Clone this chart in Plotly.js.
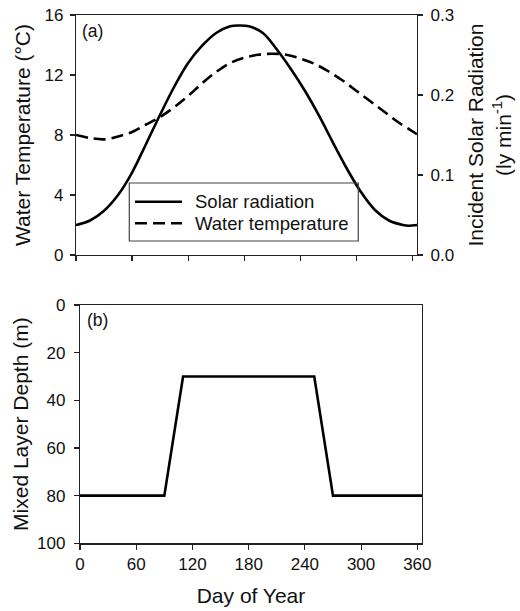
<!DOCTYPE html>
<html>
<head>
<meta charset="utf-8">
<script src="https://cdn.plot.ly/plotly-3.0.1.min.js"></script>
<style>html,body{margin:0;padding:0;background:#fff;}#chart{width:520px;height:611px;}</style>
</head>
<body>
<div id="chart"></div>
<script>
// ---- data ----
const solarDays = [0, 15, 30, 45, 60, 75, 90, 105, 120, 135, 150, 165, 175, 185, 200, 215, 230, 245, 260, 275, 290, 305, 320, 335, 350, 356, 365];
// incident solar radiation (ly/min)
const solarRadiation = [0.0375, 0.0431, 0.0553, 0.0750, 0.1031, 0.1388, 0.1753, 0.2100, 0.2400, 0.2616, 0.2775, 0.2859, 0.2869, 0.2859, 0.2775, 0.2569, 0.2325, 0.2053, 0.1744, 0.1406, 0.1078, 0.0788, 0.0563, 0.0431, 0.0375, 0.0366, 0.0375];

const tempDays = [0, 15, 30, 45, 60, 75, 90, 105, 120, 135, 150, 165, 180, 195, 210, 225, 240, 255, 270, 285, 300, 315, 330, 345, 360, 365];
// water temperature (°C)
const waterTemperature = [8.0, 7.8, 7.71, 7.9, 8.2, 8.7, 9.2, 9.85, 10.6, 11.45, 12.2, 12.8, 13.15, 13.35, 13.42, 13.35, 13.1, 12.75, 12.25, 11.65, 10.95, 10.25, 9.55, 8.85, 8.25, 8.05];

const mldDays = [0, 90, 110, 250, 270, 365];
// mixed layer depth (m)
const mixedLayerDepth = [80, 80, 30, 30, 80, 80];

const dayTicks = [0, 60, 120, 180, 240, 300, 360];
const tempTicks = [0, 4, 8, 12, 16];
const solarTicks = [0.0, 0.1, 0.2, 0.3];
const depthTicks = [0, 20, 40, 60, 80, 100];

const seriesNames = ['Solar radiation', 'Water temperature'];

// ---- layout helpers (pixel -> paper) ----
const W = 520, H = 611;
const px = x => x / W;
const py = y => 1 - y / H;

const font = 'Liberation Sans, Arial, sans-serif';
const axCol = '#222';

const traces = [
  {x: solarDays, y: solarRadiation, xaxis: 'x', yaxis: 'y2', mode: 'lines', name: seriesNames[0],
   line: {color: '#000', width: 2.6, shape: 'spline'}, showlegend: false},
  {x: tempDays, y: waterTemperature, xaxis: 'x', yaxis: 'y', mode: 'lines', name: seriesNames[1],
   line: {color: '#000', width: 2.6, dash: '12px,6px', shape: 'spline'}, showlegend: false},
  {x: mldDays, y: mixedLayerDepth, xaxis: 'x2', yaxis: 'y3', mode: 'lines', name: 'Mixed layer depth',
   line: {color: '#000', width: 2.6}, showlegend: false}
];

const baseAxis = {
  showline: true, linecolor: axCol, linewidth: 1.2, ticks: 'outside', ticklen: 5, tickwidth: 1.2,
  tickcolor: axCol, showgrid: false, zeroline: false, tickfont: {family: font, size: 17, color: '#111'},
  fixedrange: true
};

const layout = {
  width: W, height: H,
  margin: {l: 0, r: 0, t: 0, b: 0},
  paper_bgcolor: '#fff', plot_bgcolor: '#fff',
  showlegend: false,
  xaxis: Object.assign({}, baseAxis, {
    domain: [px(76), px(417)], range: [0, 365], tickvals: dayTicks, showticklabels: false,
    mirror: true, anchor: 'y'
  }),
  yaxis: Object.assign({}, baseAxis, {
    domain: [py(255), py(15)], range: [0, 16], tickvals: tempTicks, anchor: 'x',
    ticklabelstandoff: 3,
    title: {text: 'Water Temperature (°C)', font: {family: font, size: 21, color: '#111'}, standoff: 8}
  }),
  yaxis2: Object.assign({}, baseAxis, {
    overlaying: 'y', side: 'right', anchor: 'x', range: [0, 0.3], tickvals: solarTicks, tickformat: '.1f',
    ticklabelstandoff: 4,
    title: {text: 'Incident Solar Radiation<br>(ly min<sup>-1</sup>)', font: {family: font, size: 21, color: '#111'}, standoff: 15}
  }),
  xaxis2: Object.assign({}, baseAxis, {
    domain: [px(80), px(422)], range: [0, 365], tickvals: dayTicks, mirror: true, anchor: 'y3',
    ticklabelstandoff: 0,
    title: {text: 'Day of Year', font: {family: font, size: 21, color: '#111'}, standoff: 15}
  }),
  yaxis3: Object.assign({}, baseAxis, {
    domain: [py(543.3), py(305)], range: [100, 0], tickvals: depthTicks, mirror: true, anchor: 'x2',
    ticklabelstandoff: 5,
    title: {text: 'Mixed Layer Depth (m)', font: {family: font, size: 21, color: '#111'}, standoff: 2}
  }),
  shapes: [
    {type: 'rect', xref: 'paper', yref: 'paper', x0: px(129.3), x1: px(358.3), y0: py(241), y1: py(183),
     line: {color: '#444', width: 1.2}, fillcolor: 'rgba(0,0,0,0)'},
    {type: 'line', xref: 'paper', yref: 'paper', x0: px(135), x1: px(182), y0: py(201.7), y1: py(201.7),
     line: {color: '#000', width: 2.6}},
    {type: 'line', xref: 'paper', yref: 'paper', x0: px(135), x1: px(182), y0: py(223.3), y1: py(223.3),
     line: {color: '#000', width: 2.6, dash: '12px,6px'}}
  ],
  annotations: [
    {xref: 'paper', yref: 'paper', x: px(193), y: py(201.7), xanchor: 'left', yanchor: 'middle', showarrow: false,
     text: seriesNames[0], font: {family: font, size: 18.5, color: '#111'}},
    {xref: 'paper', yref: 'paper', x: px(193), y: py(223.3), xanchor: 'left', yanchor: 'middle', showarrow: false,
     text: seriesNames[1], font: {family: font, size: 18.5, color: '#111'}},
    {xref: 'paper', yref: 'paper', x: px(80), y: py(31), xanchor: 'left', yanchor: 'middle', showarrow: false,
     text: '(a)', font: {family: font, size: 17.5, color: '#111'}},
    {xref: 'paper', yref: 'paper', x: px(85), y: py(320), xanchor: 'left', yanchor: 'middle', showarrow: false,
     text: '(b)', font: {family: font, size: 17.5, color: '#111'}}
  ]
};

Plotly.newPlot('chart', traces, layout, {staticPlot: true, displayModeBar: false});
</script>
</body>
</html>
